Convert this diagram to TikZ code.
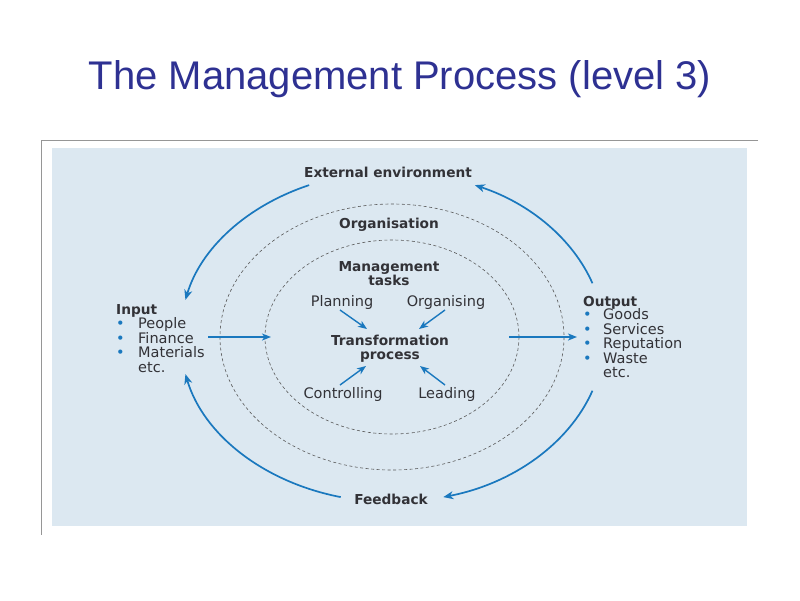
\documentclass[tikz,border=0pt]{standalone}
\usepackage{fontspec}
\setmainfont{DejaVu Sans}
\newfontfamily\titlefont{Liberation Sans}
\usetikzlibrary{arrows.meta,positioning}
\definecolor{titleblue}{RGB}{46,49,146}
\definecolor{panelblue}{RGB}{220,232,241}
\definecolor{flowblue}{RGB}{26,120,190}
\definecolor{textgray}{RGB}{50,50,55}
\definecolor{framegray}{RGB}{150,150,150}

\tikzset{
  boldlabel/.style={font=\fontsize{13.7}{14.5}\selectfont\bfseries, text=textgray, inner sep=0pt, anchor=base},
  tasklabel/.style={font=\fontsize{14.5}{14.5}\selectfont, text=textgray, inner sep=0pt, anchor=base},
  listitem/.style={font=\fontsize{14.5}{14.5}\selectfont, text=textgray, inner sep=0pt, anchor=base west},
  cyclearrow/.style={draw=flowblue, line width=1.7pt, -{Stealth[length=10pt,width=8pt,inset=3pt]}},
  flowarrow/.style={draw=flowblue, line width=1.4pt, -{Stealth[length=9pt,width=7pt,inset=2.5pt]}},
  boundary/.style={draw=black!65, line width=0.6pt, dash pattern=on 3pt off 2.5pt},
}
\newcommand{\inbullet}[1]{\makebox[22pt][l]{\textcolor{flowblue}{•}}#1}
\newcommand{\outbullet}[1]{\makebox[20pt][l]{\textcolor{flowblue}{•}}#1}

\begin{document}
\begin{tikzpicture}[x=1pt,y=-1pt]
  \useasboundingbox (0,0) rectangle (800,600);

  % Title
  \node[font=\titlefont\fontsize{40}{42}\selectfont, text=titleblue, anchor=base, inner sep=0pt] (title) at (400,89) {The Management Process (level 3)};

  % Frame and panel
  \draw[framegray, line width=0.8pt] (758,140) -- (41,140) -- (41,535);
  \fill[panelblue] (52,148) rectangle (747,526);

  % Organisation and management boundaries
  \coordinate (ctr) at (392,337);
  \draw[boundary] (ctr) ellipse[x radius=172, y radius=133];
  \draw[boundary] (ctr) ellipse[x radius=127, y radius=97];

  % Cycle labels
  \node[boldlabel] (ext) at (388,177) {External environment};
  \node[boldlabel] (org) at (389,228) {Organisation};
  \node[boldlabel] (mgmt) at (389,271) {Management};
  \node[boldlabel] (tasks) at (389,285) {tasks};
  \node[boldlabel] (trans) at (390,345) {Transformation};
  \node[boldlabel] (proc) at (390,359) {process};
  \node[boldlabel] (fb) at (391,504) {Feedback};

  % Management tasks
  \node[tasklabel] (plan) at (342,306) {Planning};
  \node[tasklabel] (orgn) at (446,306) {Organising};
  \node[tasklabel] (ctrl) at (343,398) {Controlling};
  \node[tasklabel] (lead) at (447,398) {Leading};

  % Input list
  \node[boldlabel, anchor=base west] (input) at (116,314) {Input};
  \foreach \item [count=\i] in {People,Finance,Materials}
    \node[listitem] (in\i) at (116,{328.5+14.5*(\i-1)}) {\inbullet{\item}};
  \node[listitem] (inetc) at (138,372) {etc.};

  % Output list
  \node[boldlabel, anchor=base west] (output) at (583,306) {Output};
  \foreach \item [count=\i] in {Goods,Services,Reputation,Waste}
    \node[listitem] (out\i) at (583,{319.5+14.5*(\i-1)}) {\outbullet{\item}};
  \node[listitem] (outetc) at (603,377) {etc.};

  % Feedback cycle
  \draw[cyclearrow] (ctr) ++(-113:212 and 165) arc[start angle=-113, end angle=-167, x radius=212, y radius=165];
  \draw[cyclearrow] (ctr) ++(-19:212 and 165) arc[start angle=-19, end angle=-67, x radius=212, y radius=165];
  \draw[cyclearrow] (ctr) ++(19:212 and 165) arc[start angle=19, end angle=76, x radius=212, y radius=165];
  \draw[cyclearrow] (ctr) ++(104:212 and 165) arc[start angle=104, end angle=167, x radius=212, y radius=165];

  % Flow in and out
  \coordinate (in-a) at (208,337);
  \coordinate (in-b) at (271,337);
  \coordinate (out-a) at (509,337);
  \coordinate (out-b) at (577,337);
  \draw[flowarrow] (in-a) -- (in-b);
  \draw[flowarrow] (out-a) -- (out-b);

  % Task arrows
  \coordinate (plan-a) at (340,310);
  \coordinate (plan-b) at (367,329);
  \coordinate (orgn-a) at (445,310);
  \coordinate (orgn-b) at (419,329);
  \coordinate (ctrl-a) at (340,385);
  \coordinate (ctrl-b) at (366,366);
  \coordinate (lead-a) at (445,385);
  \coordinate (lead-b) at (420,366);
  \draw[flowarrow] (plan-a) -- (plan-b);
  \draw[flowarrow] (orgn-a) -- (orgn-b);
  \draw[flowarrow] (ctrl-a) -- (ctrl-b);
  \draw[flowarrow] (lead-a) -- (lead-b);
\end{tikzpicture}
\end{document}
